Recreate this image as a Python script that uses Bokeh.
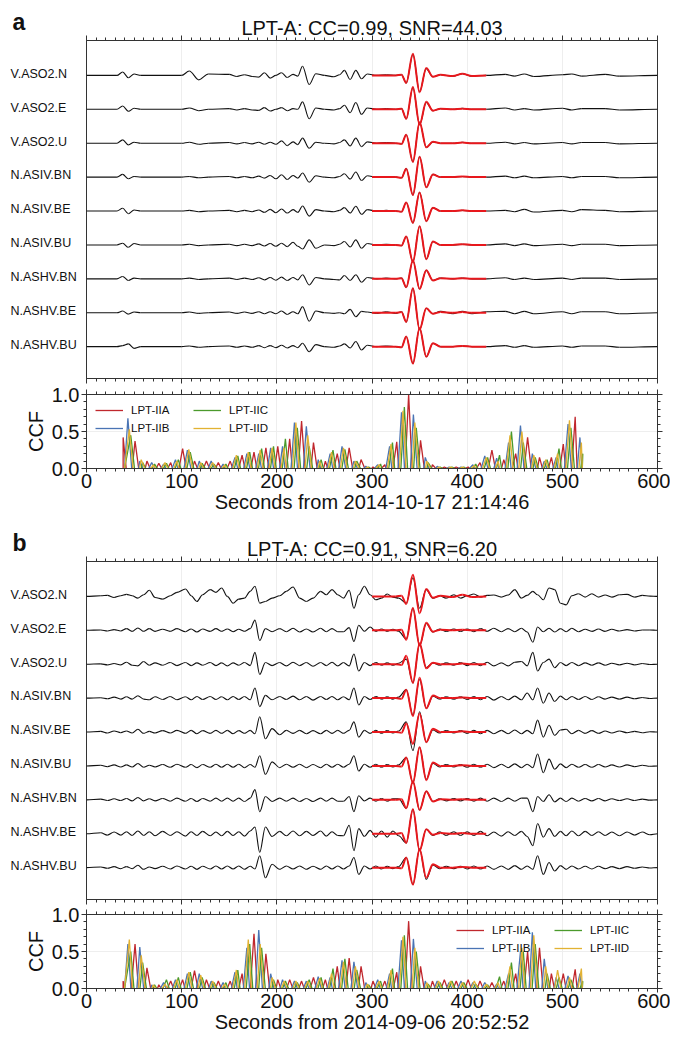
from bokeh.plotting import figure
from bokeh.models import (Range1d, LinearAxis, SingleIntervalTicker, Legend, LegendItem,
                          Grid, PrintfTickFormatter, CustomJSTickFormatter)
from bokeh.core.properties import value
from bokeh.layouts import column, row
from bokeh.embed import file_html
from bokeh.resources import INLINE

FONT = "Liberation Sans"

STATIONS = ["V.ASO2.N", "V.ASO2.E", "V.ASO2.U", "N.ASIV.BN", "N.ASIV.BE",
            "N.ASIV.BU", "N.ASHV.BN", "N.ASHV.BE", "N.ASHV.BU"]

TITLE_A = "LPT-A: CC=0.99, SNR=44.03"
TITLE_B = "LPT-A: CC=0.91, SNR=6.20"
XLABEL_A = "Seconds from 2014-10-17 21:14:46"
XLABEL_B = "Seconds from 2014-09-06 20:52:52"
CCF_NAMES = ["LPT-IIA", "LPT-IIB", "LPT-IIC", "LPT-IID"]

# ---------------- red template (LPT-A), seconds / normalised amplitude ----------
RED_T = [300, 325, 331, 336, 343, 350, 357, 364, 372, 385, 395, 405, 420]
RED_VASO2N = [0, 0, .02, -.22, .64, -.50, .22, -.04, .02, -.02, .05, -.02, 0]
RED_VASO2E = [0, 0, .02, -.28, .66, -.45, .22, -.04, .02, 0, .02, 0, 0]
RED_VASO2U = [0, 0, -.02, .25, -.55, .62, -.12, .04, 0, 0, .02, 0, 0]
RED_ASIVBN = [0, 0, -.02, .25, -.53, .60, -.30, .08, 0, 0, .02, 0, 0]
RED_ASIVBE = [0, 0, -.02, .25, -.35, .55, -.30, .10, 0, 0, .02, 0, 0]
RED_ASIVBU = [0, 0, -.02, .25, -.50, .55, -.42, .10, 0, 0, .02, 0, 0]
RED_ASHVBN = [0, 0, .02, -.25, .55, -.30, .25, -.05, .02, 0, .02, 0, 0]
RED_ASHVBE = [0, 0, .02, -.27, .72, -.50, .13, -.03, .02, 0, .02, 0, 0]
RED_ASHVBU = [0, 0, -.02, .30, -.50, .55, -.30, .10, 0, 0, .02, 0, 0]
RED_ALL = [RED_VASO2N, RED_VASO2E, RED_VASO2U, RED_ASIVBN, RED_ASIVBE,
           RED_ASIVBU, RED_ASHVBN, RED_ASHVBE, RED_ASHVBU]

# ---------------- panel a waveforms -------------------------------------------
TA = [0, 32, 38, 44, 50, 57, 100, 108, 118, 128, 150, 158, 166, 174, 181, 187,
      193, 199, 205, 211, 217, 222, 227, 234, 241, 250, 260, 266, 271, 277, 283,
      289, 295, 305, 315, 325, 331, 336, 343, 350, 357, 364, 372, 385, 395, 405,
      420, 440, 450, 460, 470, 500, 510, 520, 545, 560, 600]
A_VASO2N = [0, 0, .10, -.07, .04, 0, 0, .13, -.13, .04, .03, -.03, .02, -.03, -.05, .08,
            -.08, 0, .08, -.06, .03, -.02, .27, -.27, .05, 0, -.04, .02, .15, -.12, .15,
            -.10, .04, 0, .02, 0, .02, -.22, .62, -.48, .20, -.04, .02, -.02, .05, -.02,
            0, .03, -.02, .04, -.03, .02, .04, -.02, .03, -.02, 0]
A_VASO2E = [0, 0, .10, -.06, .03, 0, 0, .04, -.04, 0, .02, -.02, .02, -.02, -.03, .05,
            -.05, 0, .05, -.04, .02, 0, .22, -.28, .04, 0, -.02, .02, .12, -.10, .20,
            -.15, .04, 0, .02, 0, .02, -.28, .64, -.45, .20, -.04, .02, 0, .03, 0,
            0, .04, -.02, .02, -.02, .03, -.02, .02, .02, -.02, 0]
A_VASO2U = [0, 0, .10, -.05, .03, 0, 0, .03, -.03, 0, .02, -.02, .02, -.02, .03, -.03,
            .03, -.03, .07, -.07, .04, -.04, .15, -.15, .03, 0, -.02, .02, .10, -.08, .15,
            -.10, .04, 0, .02, 0, -.02, .25, -.55, .62, -.12, .04, 0, 0, .03, 0,
            0, .03, -.02, .02, -.02, .02, -.02, .02, .02, -.02, 0]
A_ASIVBN = [0, 0, .08, -.05, .02, 0, 0, .02, -.02, 0, .02, -.02, .02, -.02, .03, -.03,
            .05, -.05, .07, -.07, .05, -.03, .12, -.15, .04, 0, -.02, .02, .10, -.06, .15,
            -.10, .04, 0, .02, 0, -.02, .25, -.53, .60, -.30, .08, 0, 0, .02, 0,
            0, .03, -.02, .03, -.02, .02, -.02, .02, .02, -.02, 0]
A_ASIVBE = [0, 0, .08, -.08, .03, 0, 0, .02, -.02, 0, .02, -.02, .02, -.02, .03, -.04,
            .05, -.05, .06, -.06, .04, -.04, .15, -.15, .04, 0, -.02, .02, .10, -.06, .14,
            -.10, .04, 0, .02, 0, -.02, .25, -.35, .55, -.30, .10, 0, 0, .02, 0,
            0, .02, -.02, .05, -.03, .02, -.02, .04, .02, -.02, 0]
A_ASIVBU = [0, 0, .05, -.07, .04, 0, 0, .02, -.02, 0, .02, -.02, .02, -.02, .03, -.03,
            .04, -.04, .05, -.05, .08, -.04, -.12, .15, -.10, 0, -.02, .02, .10, -.06, .15,
            -.10, .04, 0, .02, 0, -.02, .25, -.50, .55, -.42, .10, 0, 0, .02, 0,
            0, .03, -.02, .03, -.02, .02, -.02, .02, .02, -.02, 0]
A_ASHVBN = [0, 0, .07, -.05, .02, 0, 0, .02, -.02, 0, .02, -.02, .02, -.02, .03, -.03,
            .04, -.04, .05, -.05, .04, -.03, .12, -.18, .04, 0, -.02, -.03, .10, -.05, .12,
            -.10, .04, 0, .02, 0, .02, -.25, .55, -.30, .25, -.05, .02, 0, .02, 0,
            0, .03, -.02, .02, -.02, .02, -.02, .02, .02, -.02, 0]
A_ASHVBE = [0, 0, .05, -.04, .02, 0, 0, .02, -.02, 0, .02, -.02, .02, -.02, .03, -.03,
            .03, -.03, .05, -.05, .03, -.03, .18, -.25, .05, 0, -.02, 0, -.03, .10, -.12,
            .04, .02, -.02, .03, -.02, .03, -.27, .72, -.50, .13, -.03, .04, -.03, .04, -.03,
            .03, .04, -.03, .04, -.03, .03, -.03, .03, .03, -.03, 0]
A_ASHVBU = [0, 0, .03, .08, -.05, 0, 0, .02, -.02, 0, .02, -.02, .02, -.02, .03, -.03,
            .03, -.03, .04, -.04, .03, -.03, .10, -.15, .06, 0, -.02, .02, .08, -.04, .15,
            -.10, .04, 0, .02, 0, -.02, .30, -.50, .55, -.30, .10, 0, 0, .02, 0,
            0, .03, -.02, .03, -.02, .02, -.02, .02, .02, -.02, 0]
WAVES_A = [A_VASO2N, A_VASO2E, A_VASO2U, A_ASIVBN, A_ASIVBE, A_ASIVBU,
           A_ASHVBN, A_ASHVBE, A_ASHVBU]

# ---------------- panel b waveforms -------------------------------------------
TB = [0, 15, 22, 29, 36, 42, 48, 54, 60, 66,
      72, 80, 88, 95, 104, 110, 116, 122, 130, 136,
      142, 148, 154, 160, 166, 172, 177, 182, 188, 195,
      203, 210, 217, 224, 231, 238, 246, 252, 258, 264,
      270, 276, 281, 286, 292, 298, 304, 310, 316, 322,
      328, 336, 343, 350, 357, 364, 371, 378, 386, 393,
      400, 407, 414, 421, 428, 436, 443, 450, 457, 463,
      469, 474, 480, 486, 492, 498, 504, 510, 517, 524,
      531, 538, 545, 552, 560, 568, 576, 584, 592, 600]
B_VASO2N = [0, .02, .03, -.03, .02, .06, .02, -.05, .05, .18,
            -.03, -.08, .02, .12, .22, .02, -.15, .05, .20, .12,
            .25, 0, -.20, -.08, -.05, .15, .30, -.20, -.15, -.05,
            .02, .15, .28, -.05, -.15, -.05, .15, .05, .20, .05,
            -.05, .18, -.35, .05, .30, .05, -.10, -.05, .07, -.02,
            -.05, -.20, .55, -.35, .20, -.05, .02, -.05, .05, -.05,
            .02, .07, -.02, .03, .04, -.02, .04, .20, -.05, .03,
            .15, .05, -.10, .25, .20, -.20, -.25, .02, .08, -.02,
            .08, -.02, .04, -.02, .05, .06, -.02, .03, .01, 0]
B_VASO2E = [0, .01, -.02, .02, -.02, .05, -.03, .07, -.03, .05,
            -.03, .03, -.03, .05, -.04, .04, -.05, .04, -.03, .05,
            -.03, .04, -.04, .03, -.03, .05, .30, -.30, .05, -.04,
            .05, -.04, .06, -.05, .04, -.05, .06, -.04, .05, -.04,
            -.04, .08, -.33, .15, -.03, .10, -.03, .04, -.03, .03,
            -.03, -.25, .65, -.45, .20, -.05, .04, -.03, .04, -.03,
            .04, -.04, .05, -.03, .06, -.04, .05, -.04, .06, -.05,
            -.35, .10, -.04, .06, -.05, .05, -.04, .06, -.04, .03,
            -.03, .04, -.03, .03, -.02, .02, -.02, .01, .01, 0]
B_VASO2U = [0, .01, -.02, .02, -.02, .06, -.03, -.05, .08, -.03,
            .04, -.03, .05, -.04, .05, -.04, .04, -.03, .05, -.04,
            .04, -.05, .04, -.03, .05, -.04, .35, -.30, .05, -.04,
            .05, -.05, .06, -.04, .05, -.06, .05, -.04, .06, -.05,
            .05, -.05, .30, -.20, .05, -.04, .05, -.03, .04, -.03,
            .03, .15, -.55, .60, -.10, .04, -.03, .04, -.03, .05,
            -.04, .05, -.04, .06, -.05, .04, -.05, .06, .08, -.05,
            .35, -.20, .05, .15, -.10, .05, -.04, .05, -.04, .04,
            -.03, .04, -.03, .03, -.02, .03, -.02, .02, -.01, 0]
B_ASIVBN = [0, .01, -.02, .03, -.03, .04, -.03, .07, -.03, -.05,
            .04, -.04, .05, -.05, .04, -.05, .05, -.04, .05, -.04,
            .04, -.05, .05, -.04, .05, -.05, .30, -.25, .08, -.05,
            .05, -.04, .06, -.05, .05, -.06, .05, -.04, .05, -.05,
            .04, -.05, .30, -.20, .05, -.04, .05, -.03, .04, -.03,
            .03, .25, -.50, .55, -.30, .06, -.03, .04, -.03, .04,
            -.04, .05, -.05, .05, -.06, .05, -.05, .06, -.05, .15,
            -.05, .30, -.15, .15, -.10, .06, -.05, .05, -.04, .05,
            -.04, .04, -.03, .03, -.03, .03, -.02, .02, -.01, 0]
B_ASIVBE = [0, .02, -.03, .03, -.02, .03, -.03, .08, -.04, .02,
            -.03, .04, -.03, .05, -.04, .05, -.05, .04, -.04, .05,
            -.04, .05, -.05, .04, -.04, .05, -.05, .45, -.20, .10,
            -.08, .05, -.04, .05, -.05, .04, -.05, .05, -.04, .05,
            -.04, .05, .30, -.15, .05, -.04, .05, -.04, .04, -.03,
            .03, .30, -.55, .60, -.30, .06, -.03, .04, -.03, .04,
            -.04, .05, -.05, .05, -.05, .05, -.05, .06, -.05, .05,
            -.05, .35, -.15, .20, -.10, .06, .08, -.05, .05, -.04,
            .04, -.04, .03, -.03, .03, -.02, .02, -.02, .01, 0]
B_ASIVBU = [0, .02, -.02, .03, -.03, .03, -.03, .07, -.04, .02,
            -.03, .04, -.04, .05, -.04, .04, -.05, .04, -.04, .05,
            -.04, .05, -.04, .05, -.05, .04, -.04, .30, -.25, .12,
            -.05, .05, -.04, .05, -.05, .04, -.05, .05, -.04, .05,
            -.04, .05, .30, -.15, .05, -.04, .05, -.04, .04, -.03,
            .03, .25, -.50, .55, -.40, .08, -.03, .04, -.03, .04,
            -.04, .05, -.04, .05, -.05, .05, -.05, .06, -.05, .05,
            -.05, .35, -.20, .20, -.10, .06, -.05, .05, -.04, .04,
            -.04, .04, -.03, .03, -.03, .03, -.02, .02, -.01, 0]
B_ASHVBN = [0, .02, -.02, .03, -.02, .04, -.03, .07, -.03, .03,
            -.03, .04, -.04, .05, -.04, .04, -.05, .04, -.04, .05,
            -.04, .05, -.04, .05, -.05, .05, .30, -.35, .10, -.05,
            .05, -.04, .05, -.05, .04, -.05, .05, -.04, .05, -.04,
            -.04, .10, -.35, .12, -.03, .05, -.04, .04, -.04, .03,
            .03, -.25, .55, -.30, .25, -.05, .03, -.03, .04, -.03,
            .04, -.04, .05, -.04, .05, -.05, .05, -.04, .05, .05,
            -.35, .10, -.05, .15, -.06, .05, -.05, .05, -.04, .04,
            -.03, .04, -.03, .03, -.02, .03, -.02, .02, -.01, 0]
B_ASHVBE = [0, .03, -.04, .05, -.04, .06, -.05, .08, -.05, .06,
            -.06, .07, -.05, .06, -.07, .06, -.05, .07, -.06, .05,
            -.06, .07, -.05, .06, -.07, .08, .20, -.55, .20, -.08,
            .07, -.06, .08, -.06, .07, -.05, .08, -.07, .06, -.05,
            -.06, .25, -.50, .15, -.08, .10, -.10, .08, -.10, .08,
            -.06, -.27, .72, -.50, .13, -.05, .06, -.05, .06, -.05,
            .06, -.05, .07, -.06, .05, -.07, .06, -.05, .07, -.08,
            -.35, .30, -.10, .15, -.08, .07, -.06, .08, -.06, .07,
            -.05, .06, -.05, .05, -.06, .05, -.04, .05, -.03, 0]
B_ASHVBU = [0, .02, -.02, .03, -.03, .03, -.03, .07, -.05, .02,
            -.03, .04, -.04, .05, -.04, .04, -.05, .04, -.04, .05,
            -.04, .05, -.04, .05, -.05, .04, -.04, .35, -.30, .10,
            -.05, .05, -.04, .05, -.05, .04, -.05, .05, -.04, .05,
            -.04, .05, .30, -.20, .05, -.04, .05, -.04, .04, -.03,
            .03, .30, -.50, .55, -.35, .08, -.03, .04, -.03, .04,
            -.04, .05, -.04, .05, -.05, .05, -.05, .06, -.05, .05,
            -.05, .35, -.20, .15, -.10, .06, -.05, .05, -.04, .04,
            -.04, .04, -.03, .03, -.03, .03, -.02, .02, -.01, 0]
WAVES_B = [B_VASO2N, B_VASO2E, B_VASO2U, B_ASIVBN, B_ASIVBE, B_ASIVBU,
           B_ASHVBN, B_ASHVBE, B_ASHVBU]

# ---------------- CCF crest heights (one crest per CCF_STEP seconds) ------------
CCF_STEP = 12.5
CCF_FIRST = [38.5, 43.5, 46.5, 45.0]      # first crest time of IIA, IIB, IIC, IID
CCF_A_IIA = [0.42, 0.37, 0.10, 0.07, 0.08, 0.27, 0.10, 0.10, 0.08, 0.10,
             0.18, 0.22, 0.28, 0.30, 0.40, 0.64, 0.35, 0.10, 0.20, 0.28,
             0.12, 0.02, 0.05, 0.36, 1.00, 0.38, 0.05, 0.02, 0.02, 0.02,
             0.08, 0.25, 0.12, 0.20, 0.42, 0.15, 0.15, 0.33, 0.70]
CCF_A_IIB = [0.68, 0.10, 0.08, 0.06, 0.12, 0.25, 0.10, 0.10, 0.06, 0.15,
             0.20, 0.20, 0.28, 0.30, 0.62, 0.57, 0.12, 0.20, 0.30, 0.10,
             0.03, 0.05, 0.30, 0.76, 0.73, 0.15, 0.03, 0.02, 0.02, 0.05,
             0.17, 0.14, 0.35, 0.58, 0.20, 0.10, 0.15, 0.60, 0.42]
CCF_A_IIC = [0.45, 0.08, 0.06, 0.07, 0.12, 0.22, 0.07, 0.06, 0.06, 0.17,
             0.22, 0.27, 0.30, 0.40, 0.55, 0.30, 0.12, 0.25, 0.26, 0.10,
             0.02, 0.06, 0.35, 0.83, 0.55, 0.08, 0.02, 0.02, 0.02, 0.06,
             0.15, 0.18, 0.50, 0.35, 0.15, 0.12, 0.27, 0.55, 0.20]
CCF_A_IID = [0.53, 0.12, 0.05, 0.08, 0.10, 0.26, 0.08, 0.08, 0.05, 0.18,
             0.22, 0.25, 0.28, 0.28, 0.62, 0.45, 0.10, 0.22, 0.28, 0.10,
             0.02, 0.05, 0.33, 0.78, 0.62, 0.10, 0.02, 0.02, 0.02, 0.04,
             0.15, 0.10, 0.45, 0.50, 0.18, 0.12, 0.20, 0.65, 0.35]
CCF_B_IIA = [0.10, 0.60, 0.28, 0.05, 0.10, 0.12, 0.24, 0.12, 0.10, 0.10,
             0.20, 0.74, 0.47, 0.12, 0.12, 0.10, 0.15, 0.12, 0.30, 0.41,
             0.30, 0.10, 0.10, 0.22, 0.91, 0.30, 0.10, 0.12, 0.10, 0.12,
             0.10, 0.08, 0.10, 0.20, 0.50, 0.55, 0.20, 0.20, 0.26]
CCF_B_IIB = [0.60, 0.56, 0.05, 0.08, 0.12, 0.20, 0.20, 0.10, 0.08, 0.22,
             0.55, 0.79, 0.20, 0.12, 0.10, 0.10, 0.16, 0.15, 0.38, 0.36,
             0.08, 0.12, 0.20, 0.65, 0.67, 0.10, 0.10, 0.08, 0.10, 0.08,
             0.08, 0.06, 0.20, 0.50, 0.76, 0.40, 0.15, 0.17, 0.20]
CCF_B_IIC = [0.50, 0.35, 0.05, 0.12, 0.15, 0.22, 0.15, 0.08, 0.08, 0.25,
             0.60, 0.55, 0.12, 0.10, 0.08, 0.12, 0.15, 0.27, 0.40, 0.25,
             0.05, 0.10, 0.27, 0.72, 0.50, 0.06, 0.08, 0.10, 0.08, 0.06,
             0.05, 0.16, 0.35, 0.50, 0.60, 0.20, 0.15, 0.12, 0.10]
CCF_B_IID = [0.66, 0.45, 0.05, 0.06, 0.12, 0.22, 0.18, 0.10, 0.06, 0.25,
             0.66, 0.60, 0.15, 0.10, 0.10, 0.10, 0.14, 0.20, 0.36, 0.30,
             0.06, 0.10, 0.25, 0.70, 0.55, 0.08, 0.10, 0.10, 0.08, 0.10,
             0.06, 0.08, 0.30, 0.55, 0.72, 0.30, 0.25, 0.15, 0.27]

CCF_COLORS = ["#c0272d", "#4a74b4", "#4b9a2c", "#e2b233"]
RED = "#e8171c"
INK = "#333333"
TXT = "#111111"

# geometry (pixels)
LEFT = 86          # left margin holding station names / CCF axis
RIGHT = 13
FRAME_W = 571
WAVE_H, WAVE_TOP, WAVE_BOT = 384, 38, 6
Y_LO, Y_HI = -0.94, 9.03


def tick_axis(interval, minor, labels):
    ax = LinearAxis(ticker=SingleIntervalTicker(interval=interval, num_minor_ticks=minor))
    ax.axis_line_color = INK
    ax.major_tick_line_color = INK
    ax.minor_tick_line_color = INK
    ax.major_tick_in = 0
    ax.major_tick_out = 5
    ax.minor_tick_in = 0
    ax.minor_tick_out = 3
    if not labels:
        ax.formatter = CustomJSTickFormatter(code="return ''")
        ax.major_label_text_font_size = "0px"
        ax.major_label_standoff = 0
    else:
        ax.major_label_text_font = FONT
        ax.major_label_text_font_size = "20px"
        ax.major_label_text_color = TXT
        ax.major_label_standoff = 1
        ax.axis_label_text_font = FONT
        ax.axis_label_text_font_size = "20px"
        ax.axis_label_text_font_style = "normal"
        ax.axis_label_text_color = TXT
        ax.axis_label_standoff = 0
    return ax


def smooth(p, xs, ys, **kw):
    """Draw a curve through the read extrema with flat tangents at each point."""
    x0, x1 = xs[:-1], xs[1:]
    y0, y1 = ys[:-1], ys[1:]
    cx0 = [a + (b - a) / 3 for a, b in zip(x0, x1)]
    cx1 = [b - (b - a) / 3 for a, b in zip(x0, x1)]
    p.bezier(x0=x0, y0=y0, x1=x1, y1=y1, cx0=cx0, cy0=y0, cx1=cx1, cy1=y1, **kw)


def name_panel(letter):
    # its frame is aligned with the waveform frame of the same row
    p = figure(width=LEFT, height=WAVE_H, output_backend="svg", toolbar_location=None,
               x_range=Range1d(0, LEFT), y_range=Range1d(Y_LO, Y_HI),
               x_axis_location=None, y_axis_location=None,
               min_border_left=0, min_border_right=0, min_border_top=WAVE_TOP,
               min_border_bottom=WAVE_BOT, outline_line_color=None)
    p.grid.visible = False
    p.title.text = letter
    p.title.align = "left"
    p.title.offset = 12
    p.title.standoff = 12
    p.title.text_font = FONT
    p.title.text_font_size = "23px"
    p.title.text_font_style = "bold"
    p.title.text_color = TXT
    p.text(x=[10] * len(STATIONS), y=[8 - k + 0.05 for k in range(len(STATIONS))],
           text=STATIONS, text_font=value(FONT), text_font_size=value("12.5px"),
           text_align="left", text_baseline="middle", text_color=TXT)
    return p


def wave_panel(title, grid_t, waves):
    p = figure(width=FRAME_W + RIGHT, height=WAVE_H, output_backend="svg",
               toolbar_location=None,
               x_range=Range1d(0, 600), y_range=Range1d(Y_LO, Y_HI),
               x_axis_location=None, y_axis_location=None,
               min_border_left=0, min_border_right=RIGHT, min_border_top=WAVE_TOP,
               min_border_bottom=WAVE_BOT)
    p.grid.visible = False
    p.outline_line_color = INK
    p.title.text = title
    p.title.align = "center"
    p.title.text_font = FONT
    p.title.text_font_size = "20px"
    p.title.text_font_style = "normal"
    p.title.text_color = TXT
    p.title.standoff = -6
    p.add_layout(Grid(dimension=0, ticker=SingleIntervalTicker(interval=100),
                      grid_line_color="#eeeeee"))
    p.add_layout(tick_axis(100, 10, False), "above")
    p.add_layout(tick_axis(100, 10, False), "below")
    for k, (name, vals) in enumerate(zip(STATIONS, waves)):
        assert len(vals) == len(grid_t), name
        base = 8 - k
        smooth(p, grid_t, [base + v for v in vals], line_color=TXT, line_width=1.1)
    for k, (name, rvals) in enumerate(zip(STATIONS, RED_ALL)):
        assert len(rvals) == len(RED_T), name
        base = 8 - k
        smooth(p, RED_T, [base + v for v in rvals], line_color=RED, line_width=2)
    return p


def ccf_xy(t0, heights):
    ts = [t0 + i * CCF_STEP for i in range(len(heights))]
    xs = [40.0 if ts[0] > 40 else ts[0]]
    ys = [0.0]
    for i, (t, h) in enumerate(zip(ts, heights)):
        xs.append(t)
        ys.append(h)
        if i < len(ts) - 1:
            # trough of the correlation lies below the axis (clipped away)
            xs.append(t + CCF_STEP / 2)
            ys.append(-0.5 * (h + heights[i + 1]))
    xs.append(min(ts[-1] + 2.0, 521.0))
    ys.append(0.0)
    return xs, ys


def ccf_panel(series, xlabel, legend_loc, height, top, margin):
    bottom = height - top - 74
    p = figure(width=LEFT + FRAME_W + RIGHT, height=height, output_backend="svg",
               toolbar_location=None,
               x_range=Range1d(0, 600), y_range=Range1d(0, 1),
               x_axis_location=None, y_axis_location=None,
               min_border_left=LEFT, min_border_right=RIGHT, min_border_top=top,
               min_border_bottom=bottom)
    p.grid.visible = False
    p.outline_line_color = INK
    p.add_layout(Grid(dimension=0, ticker=SingleIntervalTicker(interval=100),
                      grid_line_color="#eeeeee"))
    p.add_layout(Grid(dimension=1, ticker=SingleIntervalTicker(interval=0.5),
                      grid_line_color="#eeeeee"))
    xb = tick_axis(100, 10, True)
    xb.major_tick_out = 4
    xb.axis_label = xlabel
    p.add_layout(xb, "below")
    p.add_layout(tick_axis(100, 10, False), "above")
    yl = tick_axis(0.5, 5, True)
    yl.formatter = PrintfTickFormatter(format="%.1f")
    yl.axis_label = "CCF"
    yl.major_label_standoff = 2
    yl.axis_label_standoff = 2
    p.add_layout(yl, "left")
    p.add_layout(tick_axis(0.5, 5, False), "right")
    renderers = []
    for t0, h, c in zip(CCF_FIRST, series, CCF_COLORS):
        xs, ys = ccf_xy(t0, h)
        renderers.append(p.line(xs, ys, line_color=c, line_width=1.3))
    items = [LegendItem(label=n, renderers=[r]) for n, r in zip(CCF_NAMES, renderers)]
    leg = Legend(items=items, ncols=2, location=legend_loc, margin=margin, padding=0,
                 spacing=4, glyph_width=28, glyph_height=14, label_height=14,
                 label_width=58, label_standoff=8, label_text_font=FONT,
                 label_text_font_size="11.5px", label_text_color=TXT,
                 border_line_color=None, background_fill_alpha=0)
    p.add_layout(leg)
    return p


top_a = row(name_panel("a"), wave_panel(TITLE_A, TA, WAVES_A), spacing=0)
ccf_a = ccf_panel([CCF_A_IIA, CCF_A_IIB, CCF_A_IIC, CCF_A_IID], XLABEL_A,
                  "top_left", 137, 10, 9)
top_b = row(name_panel("b"), wave_panel(TITLE_B, TB, WAVES_B), spacing=0)
ccf_b = ccf_panel([CCF_B_IIA, CCF_B_IIB, CCF_B_IIC, CCF_B_IID], XLABEL_B,
                  "top_right", 134, 9, 9)

layout = column(top_a, ccf_a, top_b, ccf_b, spacing=0)
open("out.html", "w").write(file_html(layout, INLINE, title="LPT-A waveforms"))
